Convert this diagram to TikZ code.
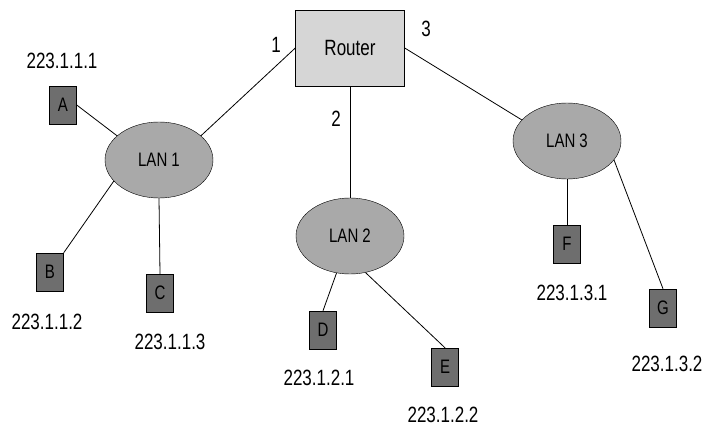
\documentclass[tikz,border=0pt]{standalone}
\usepackage{fontspec}
\setmainfont{Liberation Sans}
\usepackage{graphicx}
\usetikzlibrary{shapes.geometric}

\definecolor{routergray}{HTML}{D6D6D6}
\definecolor{langray}{HTML}{A9A9A9}
\definecolor{hostgray}{HTML}{6E6E6E}

% narrow, tall lettering
\newcommand{\tall}[1]{\scalebox{1}[1.3]{#1}}

\begin{document}
\begin{tikzpicture}[x=1pt, y=-1pt]
	\tikzstyle{router} = [rectangle, minimum width=109pt, minimum height=76pt, inner sep=0pt, draw=black, fill=routergray, font=\fontsize{17}{20}\selectfont]
	\tikzstyle{lan}    = [ellipse, minimum width=108pt, minimum height=76pt, inner sep=0pt, draw=black, fill=langray, font=\fontsize{15}{18}\selectfont]
	\tikzstyle{host}   = [rectangle, minimum width=27pt, minimum height=38pt, inner sep=0pt, draw=black, fill=hostgray, font=\fontsize{15}{18}\selectfont]
	\tikzstyle{addr}   = [inner sep=0pt, font=\fontsize{17}{20}\selectfont]
	\tikzstyle{link}   = [draw=black, line width=0.8pt]

	\useasboundingbox (0,0) rectangle (707,430);

	\node[router] (router) at (350,48) {\tall{Router}};

	\foreach \num/\x/\y in {1/159/160, 2/350/236, 3/567/141}
		\node[lan] (lan\num) at (\x, \y) {\tall{LAN \num}};

	\foreach \name/\lbl/\x/\y in {a/A/63/105, b/B/50/272, c/C/160/293, d/D/323/330, e/E/445/367, f/F/567/244, g/G/663/308}
		\node[host] (\name) at (\x, \y) {\tall{\lbl}};

	% addresses
	\foreach \name/\x/\y/\ip in {a/62/61/223.1.1.1, b/47/322/223.1.1.2, c/170/342/223.1.1.3, d/319/378/223.1.2.1, e/443/415/223.1.2.2, f/572/293/223.1.3.1, g/667/364/223.1.3.2}
		\node[addr] (ip\name) at (\x, \y) {\tall{\ip}};

	% router ports
	\node[addr] (port1) at (276,45) {\tall{1}};
	\node[addr] (port2) at (336,119) {\tall{2}};
	\node[addr] (port3) at (426,29) {\tall{3}};

	\foreach \from/\to in {router.west/lan1.30, router.south/lan2.north, router.east/lan3.155, a.east/lan1.150, lan1.205/b.north east, lan1.south/c.north, lan2.250/d.north, lan2.293/e.north, lan3.south/f.north, lan3.338/g.north}
		\draw[link] (\from) -- (\to);
\end{tikzpicture}
\end{document}
